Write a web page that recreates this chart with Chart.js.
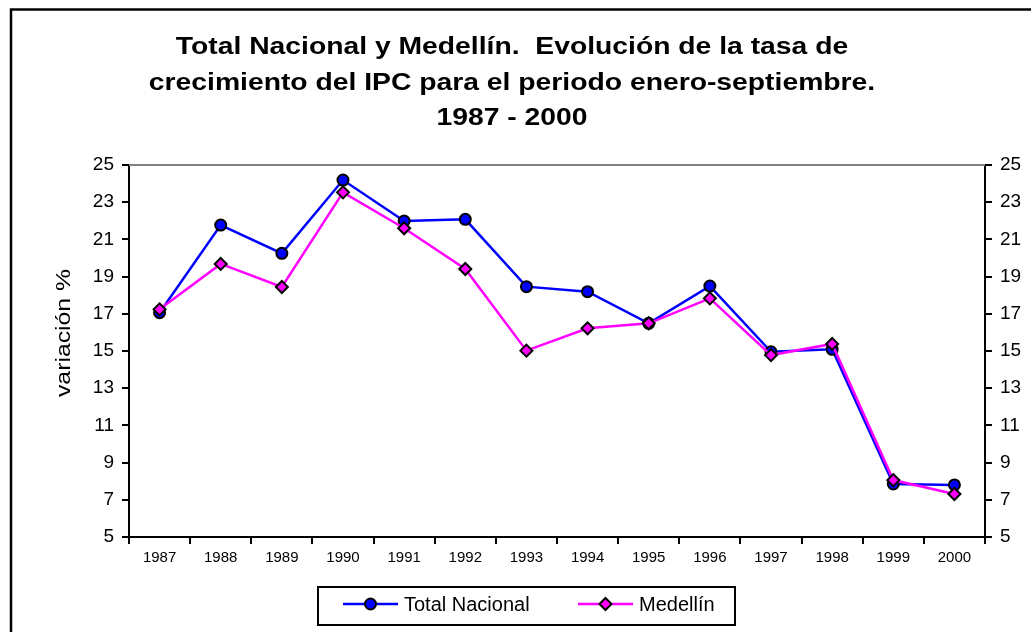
<!DOCTYPE html>
<html lang="es">
<head>
    <meta charset="UTF-8">
    <title>Total Nacional y Medellín - IPC</title>
    <script src="https://cdn.jsdelivr.net/npm/chart.js"></script>
    <style>
        html, body {
            margin: 0;
            padding: 0;
            background: white;
            overflow: hidden;
        }
        canvas {
            display: block;
        }
    </style>
</head>
<body>

    <canvas id="ipcChart" width="1031" height="632"></canvas>

    <script>
        // Datos
        const years = ['1987', '1988', '1989', '1990', '1991', '1992', '1993',
                       '1994', '1995', '1996', '1997', '1998', '1999', '2000'];
        const totalNacional = [17.06, 21.77, 20.25, 24.19, 21.99, 22.08, 18.46,
                               18.19, 16.49, 18.49, 14.96, 15.09, 7.85, 7.80];
        const medellin = [17.24, 19.68, 18.44, 23.53, 21.60, 19.41, 15.02,
                          16.22, 16.49, 17.83, 14.78, 15.38, 8.06, 7.31];
        const yMin = 5, yMax = 25, yStep = 2;

        const titleLines = [
            'Total Nacional y Medellín.  Evolución de la tasa de',
            'crecimiento del IPC para el periodo enero-septiembre.',
            '1987 - 2000'
        ];
        const yTitle = 'variación %';

        const FONT = '"Liberation Sans", Arial, sans-serif';

        // texto con un poco de estiramiento horizontal, como en el original
        function stretchedText(ctx, text, x, y, sx, angle) {
            ctx.save();
            ctx.translate(x, y);
            if (angle) ctx.rotate(angle);
            ctx.scale(sx, 1);
            ctx.fillText(text, 0, 0);
            ctx.restore();
        }

        // titulo, borde, titulo del eje y leyenda dibujados a mano
        const decorations = {
            id: 'decorations',
            afterDraw(chart) {
                const ctx = chart.ctx;
                const area = chart.chartArea;
                ctx.save();

                // borde exterior (solo izquierda y arriba visibles)
                ctx.strokeStyle = '#000';
                ctx.lineWidth = 2.5;
                ctx.beginPath();
                ctx.moveTo(11, 640);
                ctx.lineTo(11, 9.5);
                ctx.lineTo(1040, 9.5);
                ctx.stroke();

                // linea gris superior del area de trazado
                ctx.strokeStyle = '#808080';
                ctx.lineWidth = 2;
                ctx.beginPath();
                ctx.moveTo(area.left, area.top);
                ctx.lineTo(area.right, area.top);
                ctx.stroke();

                // titulo
                ctx.fillStyle = '#000';
                ctx.font = 'bold 23px ' + FONT;
                ctx.textAlign = 'center';
                ctx.textBaseline = 'alphabetic';
                titleLines.forEach((t, i) => stretchedText(ctx, t, 512, 54 + i * 35.5, 1.23, 0));

                // titulo eje y
                ctx.font = '21px ' + FONT;
                stretchedText(ctx, yTitle, 70, 333, 1.18, -Math.PI / 2);

                // leyenda
                ctx.strokeStyle = '#000';
                ctx.lineWidth = 2;
                ctx.strokeRect(318, 587, 417, 38);
                const items = [
                    { ds: chart.data.datasets[0], x: 343 },
                    { ds: chart.data.datasets[1], x: 578 }
                ];
                ctx.font = '20px ' + FONT;
                ctx.textAlign = 'left';
                ctx.textBaseline = 'middle';
                items.forEach(it => {
                    const ds = it.ds, y = 604;
                    ctx.strokeStyle = ds.borderColor;
                    ctx.lineWidth = ds.borderWidth;
                    ctx.beginPath();
                    ctx.moveTo(it.x, y);
                    ctx.lineTo(it.x + 55, y);
                    ctx.stroke();
                    ctx.fillStyle = ds.pointBackgroundColor;
                    ctx.strokeStyle = ds.pointBorderColor;
                    ctx.lineWidth = ds.pointBorderWidth;
                    Chart.helpers.drawPoint(ctx, {
                        pointStyle: ds.pointStyle,
                        radius: ds.pointRadius,
                        rotation: 0,
                        borderWidth: ds.pointBorderWidth
                    }, it.x + 27.5, y);
                    ctx.fillStyle = '#000';
                    ctx.fillText(ds.label, it.x + 61, y + 1);
                });

                ctx.restore();
            }
        };

        const tickFont = { family: FONT, size: 19 };
        const yAxis = (position, width) => ({
            position: position,
            min: yMin,
            max: yMax,
            ticks: { stepSize: yStep, color: '#000', font: tickFont, padding: 8 },
            grid: { drawOnChartArea: false, tickLength: 7, color: '#000', lineWidth: 2 },
            border: { color: '#000', width: 2 },
            afterFit: s => { s.width = width; }
        });

        new Chart(document.getElementById('ipcChart').getContext('2d'), {
            type: 'line',
            data: {
                labels: years,
                datasets: [
                    {
                        label: 'Total Nacional',
                        data: totalNacional,
                        borderColor: '#0000ff',
                        borderWidth: 2.5,
                        pointStyle: 'circle',
                        pointRadius: 5.5,
                        pointBackgroundColor: '#0000ff',
                        pointBorderColor: '#000',
                        pointBorderWidth: 2,
                        tension: 0,
                        order: 1
                    },
                    {
                        label: 'Medellín',
                        data: medellin,
                        borderColor: '#ff00ff',
                        borderWidth: 2.5,
                        pointStyle: 'rectRot',
                        pointRadius: 6,
                        pointBackgroundColor: '#ff00ff',
                        pointBorderColor: '#000',
                        pointBorderWidth: 2,
                        tension: 0,
                        order: 0
                    }
                ]
            },
            options: {
                responsive: false,
                animation: false,
                layout: { padding: { top: 165, left: 10, right: 6, bottom: 55 } },
                plugins: {
                    legend: { display: false },
                    title: { display: false },
                    tooltip: { enabled: false }
                },
                scales: {
                    x: {
                        offset: true,
                        grid: { offset: true, drawOnChartArea: false, tickLength: 7, color: '#000', lineWidth: 2 },
                        border: { color: '#000', width: 2 },
                        ticks: { color: '#000', font: { family: FONT, size: 15 }, padding: 5, maxRotation: 0, autoSkip: false },
                        afterFit: s => { s.height = 40; }
                    },
                    y: yAxis('left', 119),
                    y2: yAxis('right', 40)
                }
            },
            plugins: [decorations]
        });
    </script>
</body>
</html>
